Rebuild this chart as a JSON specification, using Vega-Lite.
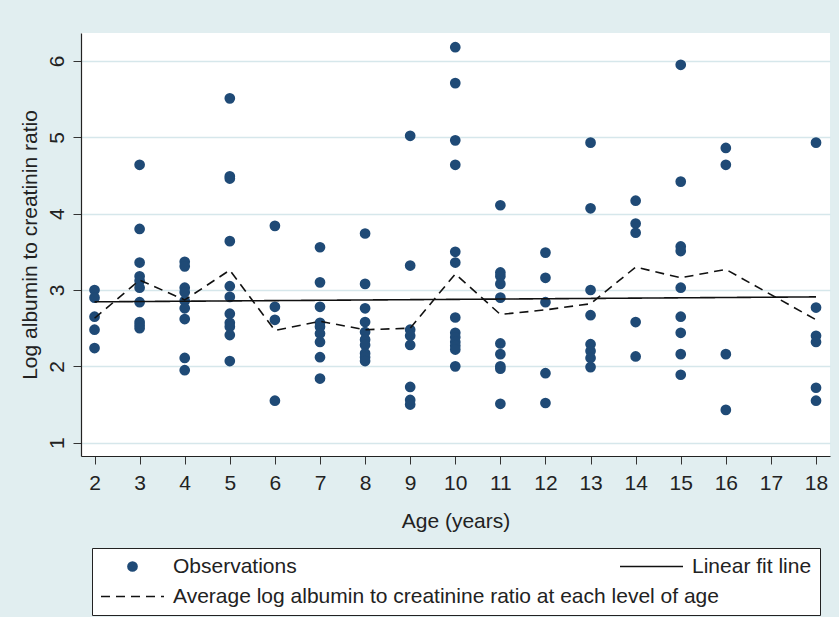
{
  "$schema": "https://vega.github.io/schema/vega-lite/v6.json",
  "width": 749,
  "height": 423,
  "autosize": {"type": "none"},
  "padding": {"left": 81, "top": 33, "right": 9, "bottom": 161},
  "background": "#e1eef0",
  "config": {
    "view": {"fill": "white", "stroke": null},
    "font": "Liberation Sans",
    "legend": {
      "layout": {"bottom": {"anchor": "middle"}},
      "rowPadding": 8,
      "clipHeight": 21,
      "labelFont": "Liberation Sans",
      "labelFontSize": 21,
      "labelColor": "#222",
      "labelLimit": 900,
      "padding": 8,
      "offset": 17
    },
    "axis": {
      "labelFont": "Liberation Sans",
      "titleFont": "Liberation Sans",
      "labelFontSize": 21,
      "titleFontSize": 21,
      "titleFontWeight": "normal",
      "labelColor": "#222",
      "titleColor": "#222",
      "domainColor": "#222",
      "domainWidth": 1.2,
      "tickColor": "#333",
      "tickSize": 8,
      "tickWidth": 1
    }
  },
  "datasets": {
    "obs": [
      {"age": 2, "value": 3.00}, {"age": 2, "value": 2.90}, {"age": 2, "value": 2.65}, {"age": 2, "value": 2.48}, {"age": 2, "value": 2.24},
      {"age": 3, "value": 4.64}, {"age": 3, "value": 3.80}, {"age": 3, "value": 3.36}, {"age": 3, "value": 3.18}, {"age": 3, "value": 3.12}, {"age": 3, "value": 3.03}, {"age": 3, "value": 2.84}, {"age": 3, "value": 2.58}, {"age": 3, "value": 2.54}, {"age": 3, "value": 2.50},
      {"age": 4, "value": 3.37}, {"age": 4, "value": 3.31}, {"age": 4, "value": 3.03}, {"age": 4, "value": 2.97}, {"age": 4, "value": 2.86}, {"age": 4, "value": 2.76}, {"age": 4, "value": 2.62}, {"age": 4, "value": 2.11}, {"age": 4, "value": 1.95},
      {"age": 5, "value": 5.51}, {"age": 5, "value": 4.49}, {"age": 5, "value": 4.46}, {"age": 5, "value": 3.64}, {"age": 5, "value": 3.05}, {"age": 5, "value": 2.91}, {"age": 5, "value": 2.69}, {"age": 5, "value": 2.57}, {"age": 5, "value": 2.52}, {"age": 5, "value": 2.41}, {"age": 5, "value": 2.07},
      {"age": 6, "value": 3.84}, {"age": 6, "value": 2.78}, {"age": 6, "value": 2.61}, {"age": 6, "value": 1.55},
      {"age": 7, "value": 3.56}, {"age": 7, "value": 3.10}, {"age": 7, "value": 2.78}, {"age": 7, "value": 2.57}, {"age": 7, "value": 2.52}, {"age": 7, "value": 2.43}, {"age": 7, "value": 2.32}, {"age": 7, "value": 2.12}, {"age": 7, "value": 1.84},
      {"age": 8, "value": 3.74}, {"age": 8, "value": 3.08}, {"age": 8, "value": 2.76}, {"age": 8, "value": 2.58}, {"age": 8, "value": 2.45}, {"age": 8, "value": 2.35}, {"age": 8, "value": 2.28}, {"age": 8, "value": 2.17}, {"age": 8, "value": 2.12}, {"age": 8, "value": 2.07},
      {"age": 9, "value": 5.02}, {"age": 9, "value": 3.32}, {"age": 9, "value": 2.48}, {"age": 9, "value": 2.40}, {"age": 9, "value": 2.28}, {"age": 9, "value": 1.73}, {"age": 9, "value": 1.56}, {"age": 9, "value": 1.50},
      {"age": 10, "value": 6.18}, {"age": 10, "value": 5.71}, {"age": 10, "value": 4.96}, {"age": 10, "value": 4.64}, {"age": 10, "value": 3.50}, {"age": 10, "value": 3.36}, {"age": 10, "value": 2.64}, {"age": 10, "value": 2.44}, {"age": 10, "value": 2.38}, {"age": 10, "value": 2.32}, {"age": 10, "value": 2.27}, {"age": 10, "value": 2.22}, {"age": 10, "value": 2.00},
      {"age": 11, "value": 4.11}, {"age": 11, "value": 3.23}, {"age": 11, "value": 3.18}, {"age": 11, "value": 3.08}, {"age": 11, "value": 2.90}, {"age": 11, "value": 2.30}, {"age": 11, "value": 2.16}, {"age": 11, "value": 2.00}, {"age": 11, "value": 1.97}, {"age": 11, "value": 1.51},
      {"age": 12, "value": 3.49}, {"age": 12, "value": 3.16}, {"age": 12, "value": 2.84}, {"age": 12, "value": 1.91}, {"age": 12, "value": 1.52},
      {"age": 13, "value": 4.93}, {"age": 13, "value": 4.07}, {"age": 13, "value": 3.00}, {"age": 13, "value": 2.67}, {"age": 13, "value": 2.29}, {"age": 13, "value": 2.20}, {"age": 13, "value": 2.11}, {"age": 13, "value": 1.99},
      {"age": 14, "value": 4.17}, {"age": 14, "value": 3.87}, {"age": 14, "value": 3.75}, {"age": 14, "value": 2.58}, {"age": 14, "value": 2.13},
      {"age": 15, "value": 5.95}, {"age": 15, "value": 4.42}, {"age": 15, "value": 3.57}, {"age": 15, "value": 3.51}, {"age": 15, "value": 3.03}, {"age": 15, "value": 2.65}, {"age": 15, "value": 2.44}, {"age": 15, "value": 2.16}, {"age": 15, "value": 1.89},
      {"age": 16, "value": 4.86}, {"age": 16, "value": 4.64}, {"age": 16, "value": 2.16}, {"age": 16, "value": 1.43},
      {"age": 18, "value": 4.93}, {"age": 18, "value": 2.77}, {"age": 18, "value": 2.40}, {"age": 18, "value": 2.32}, {"age": 18, "value": 1.72}, {"age": 18, "value": 1.55}
    ],
    "fit": [
      {"age": 2, "value": 2.845}, {"age": 18, "value": 2.91}
    ],
    "avg": [
      {"age": 2, "value": 2.63}, {"age": 3, "value": 3.13}, {"age": 4, "value": 2.87}, {"age": 5, "value": 3.26},
      {"age": 6, "value": 2.47}, {"age": 7, "value": 2.59}, {"age": 8, "value": 2.48}, {"age": 9, "value": 2.50},
      {"age": 10, "value": 3.21}, {"age": 11, "value": 2.68}, {"age": 12, "value": 2.74}, {"age": 13, "value": 2.82},
      {"age": 14, "value": 3.30}, {"age": 15, "value": 3.16}, {"age": 16, "value": 3.27}, {"age": 18, "value": 2.61}
    ]
  },
  "encoding": {
    "x": {
      "field": "age", "type": "quantitative",
      "scale": {"domain": [1.7, 18.31], "nice": false, "zero": false},
      "axis": {
        "title": "Age (years)",
        "values": [2, 3, 4, 5, 6, 7, 8, 9, 10, 11, 12, 13, 14, 15, 16, 17, 18],
        "grid": false,
        "labelPadding": 8,
        "titlePadding": 17,
        "labelFlush": false
      }
    },
    "y": {
      "field": "value", "type": "quantitative",
      "scale": {"domain": [0.826, 6.366], "nice": false, "zero": false},
      "axis": {
        "title": "Log albumin to creatinin ratio",
        "values": [1, 2, 3, 4, 5, 6],
        "grid": true,
        "gridColor": "#d6e7eb",
        "gridWidth": 1.3,
        "labelAngle": -90,
        "labelAlign": "center",
        "labelBaseline": "alphabetic",
        "labelPadding": 10,
        "titlePadding": 6,
        "labelFlush": false
      }
    }
  },
  "layer": [
    {
      "data": {"name": "obs"},
      "transform": [{"calculate": "'Observations'", "as": "series"}],
      "mark": {"type": "point", "filled": true, "opacity": 1, "strokeWidth": 0},
      "encoding": {
        "fill": {
          "field": "series", "type": "nominal",
          "scale": {"domain": ["Observations", "Linear fit line", "Average log albumin to creatinine ratio at each level of age"], "range": ["#1f4a76", "transparent", "transparent"]},
          "legend": {
            "title": null,
            "orient": "bottom",
            "columns": 2,
            "columnPadding": 322,
            "labelOffset": 8,
            "symbolStrokeWidth": 1.6,
            "strokeColor": "#222",
            "fillColor": "white",
            "labelExpr": "datum.label == 'Average log albumin to creatinine ratio at each level of age' ? '' : datum.label"
          }
        },
        "shape": {
          "field": "series", "type": "nominal",
          "scale": {"domain": ["Observations", "Linear fit line", "Average log albumin to creatinine ratio at each level of age"], "range": ["circle", "stroke", "stroke"]},
          "legend": {"title": null, "orient": "bottom"}
        },
        "size": {
          "field": "series", "type": "nominal",
          "scale": {"type": "ordinal", "domain": ["Observations", "Linear fit line", "Average log albumin to creatinine ratio at each level of age"], "range": [115, 3970, 3970]},
          "legend": {"title": null, "orient": "bottom"}
        }
      }
    },
    {
      "data": {"name": "fit"},
      "transform": [{"calculate": "'Linear fit line'", "as": "series"}],
      "mark": {"type": "line", "strokeWidth": 1.6},
      "encoding": {
        "stroke": {
          "field": "series", "type": "nominal",
          "scale": {"domain": ["Observations", "Linear fit line", "Average log albumin to creatinine ratio at each level of age"], "range": ["transparent", "#111111", "#111111"]},
          "legend": {"title": null, "orient": "bottom"}
        },
        "strokeDash": {
          "field": "series", "type": "nominal",
          "scale": {"domain": ["Observations", "Linear fit line", "Average log albumin to creatinine ratio at each level of age"], "range": [[1, 0], [1, 0], [9, 6]]},
          "legend": {"title": null, "orient": "bottom"}
        }
      }
    },
    {
      "data": {"name": "avg"},
      "transform": [{"calculate": "'Average log albumin to creatinine ratio at each level of age'", "as": "series"}],
      "mark": {"type": "line"},
      "encoding": {
        "stroke": {"field": "series", "type": "nominal", "legend": {"title": null, "orient": "bottom"}},
        "strokeDash": {"field": "series", "type": "nominal", "legend": {"title": null, "orient": "bottom"}},
        "strokeWidth": {
          "field": "series", "type": "nominal",
          "scale": {"type": "ordinal", "domain": ["Average log albumin to creatinine ratio at each level of age"], "range": [1.6]},
          "legend": {
            "title": null,
            "orient": "none",
            "legendX": 11,
            "legendY": 545.5,
            "symbolSize": 0,
            "symbolStrokeWidth": 0,
            "symbolOpacity": 0,
            "symbolStrokeColor": "transparent",
            "symbolFillColor": "transparent",
            "labelOffset": 52
          }
        }
      }
    }
  ]
}
